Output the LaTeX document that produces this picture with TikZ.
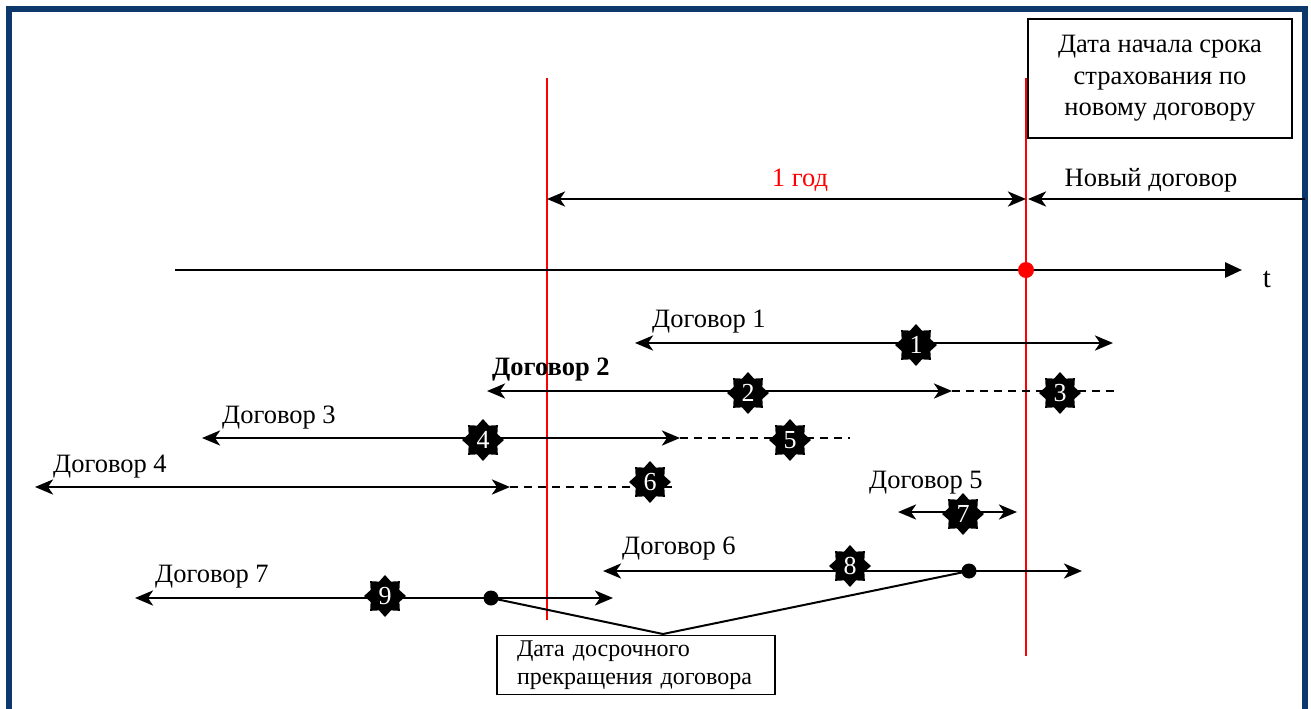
\documentclass[tikz,border=0pt]{standalone}
\usepackage{fontspec}
\setmainfont{Liberation Serif}
\usetikzlibrary{shapes.geometric,arrows.meta}
\definecolor{frameblue}{RGB}{12,56,108}
\begin{document}
\begin{tikzpicture}[x=1pt,y=-1pt,
  >={Stealth[length=18pt,width=15pt,inset=5pt]},
  txt/.style={font=\fontsize{26.5}{31}\selectfont, inner sep=0pt},
  arr/.style={line width=2.8pt},
  dashline/.style={line width=1.6pt, dash pattern=on 8pt off 6pt},
  redline/.style={red, line width=2pt},
  badge/.style={star, star points=8, star point ratio=1.35, fill=black, minimum size=42pt, inner sep=0pt, text=white, font=\fontsize{26}{28}\selectfont},
  box/.style={draw=black, fill=white, inner sep=0pt},
  bigdot/.style={circle, fill=black, minimum size=15pt, inner sep=0pt},
]
\useasboundingbox (0,0) rectangle (1311,709);
\fill[white] (0,0) rectangle (1311,709);
\draw[frameblue, line width=6pt] (9,9) rectangle (1305,712);

% red vertical lines
\coordinate (r1t) at (547,78); \coordinate (r1b) at (547,620);
\coordinate (r2t) at (1026,78); \coordinate (r2b) at (1026,656);
\draw[redline] (r1t) -- (r1b);
\draw[redline] (r2t) -- (r2b);

% top right box
\node[box, line width=2pt, minimum width=264pt, minimum height=119pt, align=center,
      font=\fontsize{26.5}{31.5}\selectfont] (newbox) at (1160,78.5)
  {\rule{0pt}{6pt}Дата начала срока\\страхования по\\новому договору};

% one year arrow
\coordinate (y0) at (547,199); \coordinate (y1) at (1026,199);
\draw[arr,<->] (y0) -- (y1);
\node[txt, text=red] (god) at (800,180) {1 год};
\coordinate (n0) at (1305,199); \coordinate (n1) at (1028,199);
\draw[arr,->] (n0) -- (n1);
\node[txt] (novyi) at (1151,180) {Новый договор};

% time axis
\coordinate (a0) at (175,270); \coordinate (a1) at (1242,270);
\draw[arr,-{Triangle[length=17pt,width=15pt]}] (a0) -- (a1);
\node[txt, font=\fontsize{29}{32}\selectfont] (t) at (1267,279) {t};
\node[circle, fill=red, minimum size=16pt, inner sep=0pt] (rdot) at (1026,270) {};

% contract 1
\coordinate (c1a) at (635,343); \coordinate (c1b) at (1113,343);
\draw[arr,<->] (c1a) -- (c1b);
\node[txt, anchor=west] (l1) at (652,322) {Договор 1};
\node[badge] (b1) at (916,345) {1};

% contract 2
\coordinate (c2a) at (487,391); \coordinate (c2b) at (952,391); \coordinate (c2c) at (1115,391);
\draw[arr,<->] (c2a) -- (c2b);
\draw[dashline] (c2b) -- (c2c);
\node[txt, anchor=west, font=\fontsize{26.5}{31}\selectfont\bfseries] (l2) at (492,370) {Договор 2};
\node[badge] (b2) at (748,393) {2};
\node[badge] (b3) at (1060,393) {3};

% contract 3
\coordinate (c3a) at (202,438); \coordinate (c3b) at (680,438); \coordinate (c3c) at (850,438);
\draw[arr,<->] (c3a) -- (c3b);
\draw[dashline] (c3b) -- (c3c);
\node[txt, anchor=west] (l3) at (222,418) {Договор 3};
\node[badge] (b4) at (483,440) {4};
\node[badge] (b5) at (790,440) {5};

% contract 4
\coordinate (c4a) at (35,487); \coordinate (c4b) at (510,487); \coordinate (c4c) at (672,487);
\draw[arr,<->] (c4a) -- (c4b);
\draw[dashline] (c4b) -- (c4c);
\node[txt, anchor=west] (l4) at (53,467) {Договор 4};
\node[badge] (b6) at (650,482) {6};

% contract 5
\coordinate (c5a) at (898,512); \coordinate (c5b) at (1017,512);
\draw[arr,<->] (c5a) -- (c5b);
\node[txt, anchor=west] (l5) at (869,483) {Договор 5};
\node[badge] (b7) at (963,514) {7};

% contract 6
\coordinate (c6a) at (603,571); \coordinate (c6b) at (1082,571);
\draw[arr,<->] (c6a) -- (c6b);
\node[txt, anchor=west] (l6) at (622,549) {Договор 6};
\node[badge] (b8) at (850,566) {8};
\node[bigdot] (d6) at (969,571) {};

% contract 7
\coordinate (c7a) at (135,598); \coordinate (c7b) at (613,598);
\draw[arr,<->] (c7a) -- (c7b);
\node[txt, anchor=west] (l7) at (155,577) {Договор 7};
\node[badge] (b9) at (385,596) {9};
\node[bigdot] (d7) at (491,598) {};

% early termination box
\node[box, line width=1.2pt, minimum width=278pt, minimum height=59pt, text width=258pt, align=left,
      font=\fontsize{24}{28}\selectfont] (termbox) at (636,665)
  {\hspace*{10pt}Дата досрочного\\\hspace*{10pt}прекращения договора};
\coordinate (apex) at (663,634);
\draw[line width=2pt] (d7.center) -- (apex) -- (d6.center);
\end{tikzpicture}
\end{document}
